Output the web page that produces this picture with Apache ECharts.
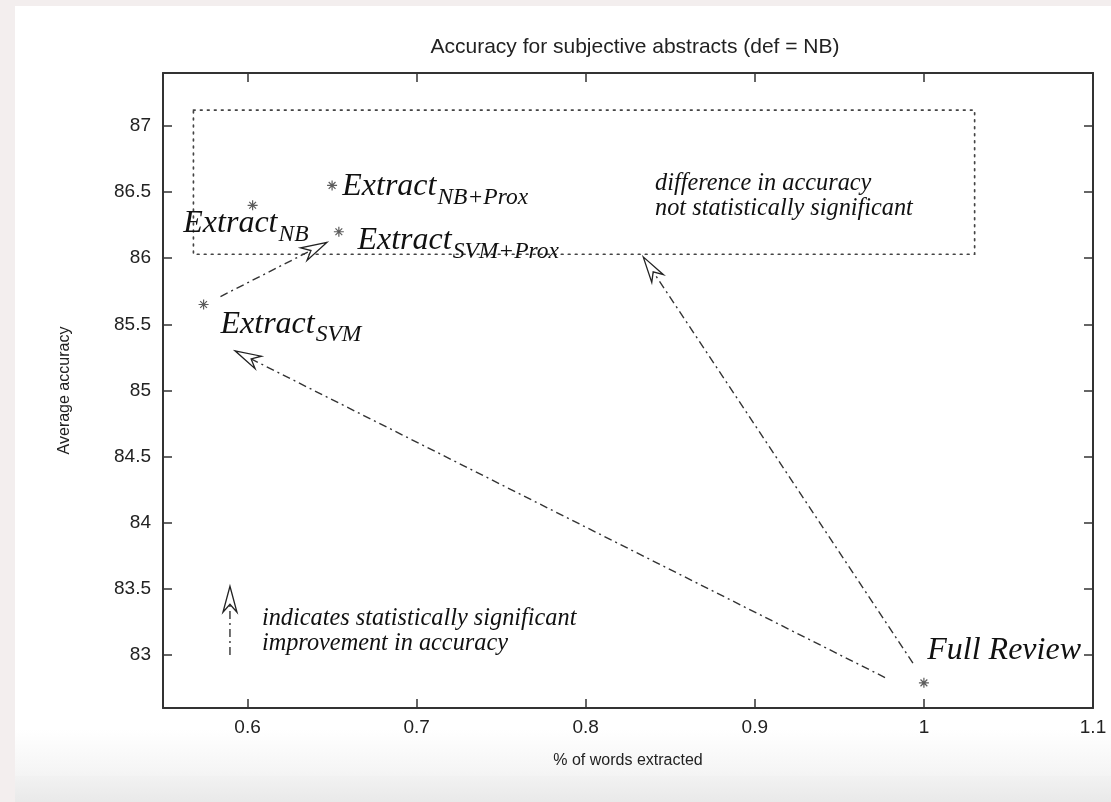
<!DOCTYPE html>
<html><head><meta charset="utf-8">
<script src="https://cdn.jsdelivr.net/npm/echarts@6/dist/echarts.min.js"></script>
<style>
html,body{margin:0;padding:0;background:#f3eeee;overflow:hidden;}
#paper{position:absolute;left:15px;top:6px;width:1096px;height:770px;background:linear-gradient(#ffffff 0%,#ffffff 94%,#f4f4f4 100%);}
#fade{position:absolute;left:15px;top:776px;width:1096px;height:26px;background:linear-gradient(#f2f2f2,#e9e9e9);}
#chart{position:absolute;left:0;top:0;width:1111px;height:802px;}
</style></head><body>
<div id="paper"></div><div id="fade"></div><div id="chart"></div>
<script>
// ---- data ----
const pointNames = ['Extract_NB', 'Extract_NB+Prox', 'Extract_SVM+Prox', 'Extract_SVM', 'Full Review'];
const wordsExtracted = [0.603, 0.650, 0.654, 0.574, 1.0];
const avgAccuracy = [86.40, 86.55, 86.20, 85.65, 82.79];
const labelMain = ['Extract', 'Extract', 'Extract', 'Extract', 'Full Review'];
const labelSub = ['NB', 'NB+Prox', 'SVM+Prox', 'SVM', ''];
const labelX = [0.562, 0.656, 0.665, 0.584, 1.002];
const labelY = [86.18, 86.46, 86.05, 85.42, 82.95];
const arrowFromX = [0.584, 0.977, 0.9935, 0.5896];
const arrowFromY = [85.71, 82.83, 82.94, 83.0];
const arrowToX = [0.647, 0.5926, 0.834, 0.5896];
const arrowToY = [86.12, 85.30, 86.01, 83.52];
const boxX = [0.568, 1.03];
const boxY = [86.03, 87.12];
const noteLines = [['difference in accuracy', 'not statistically significant'],
                   ['indicates statistically significant', 'improvement in accuracy']];
const noteX = [0.841, 0.6085];
const noteY = [86.50, 83.215];
const xTicks = [0.6, 0.7, 0.8, 0.9, 1, 1.1];
const yTicks = [83, 83.5, 84, 84.5, 85, 85.5, 86, 86.5, 87];

// ---- helpers ----
const mctx = document.createElement('canvas').getContext('2d');
function textWidth(t, font) { mctx.font = font; return mctx.measureText(t).width; }
const SERIF = '"Liberation Serif", "Times New Roman", serif';
const MAIN_SIZE = 32, SUB_SIZE = 23.5, NOTE_SIZE = 24.3;
const MAIN_FONT = 'italic ' + MAIN_SIZE + 'px ' + SERIF;
const SUB_FONT = 'italic ' + SUB_SIZE + 'px ' + SERIF;
const NOTE_FONT = 'italic ' + NOTE_SIZE + 'px ' + SERIF;
const INK = '#111';
const fmt = v => String(Math.round(v * 100) / 100);

const chart = echarts.init(document.getElementById('chart'), null, {renderer: 'canvas'});

const axisCommon = {
  type: 'value',
  splitLine: {show: false},
  axisLine: {show: true, onZero: false, lineStyle: {color: '#333', width: 2}},
};

const option = {
  backgroundColor: 'transparent',
  animation: false,
  title: {
    text: 'Accuracy for subjective abstracts (def = NB)',
    left: 630, top: 32, textAlign: 'center',
    textStyle: {fontFamily: '"Liberation Sans", Arial, sans-serif', fontSize: 21, fontWeight: 'normal', color: '#222'}
  },
  grid: {left: 163, right: 18, top: 73, bottom: 94, containLabel: false, outerBoundsMode: 'none'},
  xAxis: [
    Object.assign({}, axisCommon, {
      min: 0.55, max: 1.1, position: 'bottom',
      name: '% of words extracted', nameLocation: 'middle', nameGap: 45,
      nameTextStyle: {fontFamily: '"Liberation Sans", Arial, sans-serif', fontSize: 16, color: '#222'},
      axisTick: {show: true, inside: true, length: 9, customValues: xTicks, lineStyle: {color: '#333', width: 1.5}},
      axisLabel: {show: true, customValues: xTicks, formatter: fmt, margin: 10,
        fontFamily: '"Liberation Sans", Arial, sans-serif', fontSize: 19, color: '#222'}
    }),
    Object.assign({}, axisCommon, {
      min: 0.55, max: 1.1, position: 'top',
      axisTick: {show: true, inside: true, length: 9, customValues: xTicks, lineStyle: {color: '#333', width: 1.5}},
      axisLabel: {show: false}
    })
  ],
  yAxis: [
    Object.assign({}, axisCommon, {
      min: 82.6, max: 87.4, position: 'left',
      name: 'Average accuracy', nameLocation: 'middle', nameGap: 90,
      nameTextStyle: {fontFamily: '"Liberation Sans", Arial, sans-serif', fontSize: 16, color: '#222'},
      axisTick: {show: true, inside: true, length: 9, customValues: yTicks, lineStyle: {color: '#333', width: 1.5}},
      axisLabel: {show: true, customValues: yTicks, formatter: fmt, margin: 12,
        fontFamily: '"Liberation Sans", Arial, sans-serif', fontSize: 19, color: '#222'}
    }),
    Object.assign({}, axisCommon, {
      min: 82.6, max: 87.4, position: 'right',
      axisTick: {show: true, inside: true, length: 9, customValues: yTicks, lineStyle: {color: '#333', width: 1.5}},
      axisLabel: {show: false}
    })
  ],
  series: [
    {
      name: 'region', type: 'custom', xAxisIndex: 0, yAxisIndex: 0, silent: true,
      data: [[boxX[0], boxY[0], boxX[1], boxY[1]]],
      encode: {x: [0, 2], y: [1, 3]},
      renderItem: function (params, api) {
        const a = api.coord([api.value(0), api.value(3)]);
        const b = api.coord([api.value(2), api.value(1)]);
        return {type: 'rect', shape: {x: a[0], y: a[1], width: b[0] - a[0], height: b[1] - a[1]},
          style: {fill: 'none', stroke: '#444', lineWidth: 1.7, lineDash: [1.7, 5.3], lineCap: 'round'}};
      }
    },
    {
      name: 'arrows', type: 'custom', xAxisIndex: 0, yAxisIndex: 0, silent: true,
      data: arrowFromX.map((x, i) => [x, arrowFromY[i], arrowToX[i], arrowToY[i]]),
      encode: {x: [0, 2], y: [1, 3]},
      renderItem: function (params, api) {
        const p0 = api.coord([api.value(0), api.value(1)]);
        const p1 = api.coord([api.value(2), api.value(3)]);
        const dx = p1[0] - p0[0], dy = p1[1] - p0[1];
        const len = Math.hypot(dx, dy) || 1;
        const ux = dx / len, uy = dy / len, nx = -uy, ny = ux;
        const headLen = 26, headW = 7, notch = 18;
        const back = [p1[0] - ux * headLen, p1[1] - uy * headLen];
        const np = [p1[0] - ux * notch, p1[1] - uy * notch];
        const left = [back[0] + nx * headW, back[1] + ny * headW];
        const right = [back[0] - nx * headW, back[1] - ny * headW];
        return {type: 'group', children: [
          {type: 'line', shape: {x1: p0[0], y1: p0[1], x2: np[0], y2: np[1]},
            style: {stroke: '#333', lineWidth: 1.4, lineDash: [8, 4, 2, 4]}},
          {type: 'polygon', shape: {points: [p1, left, np, right]},
            style: {fill: '#fff', stroke: '#222', lineWidth: 1.3}}
        ]};
      }
    },
    {
      name: 'methods', type: 'scatter', xAxisIndex: 0, yAxisIndex: 0,
      data: wordsExtracted.map((x, i) => ({name: pointNames[i], value: [x, avgAccuracy[i]]})),
      symbol: 'path://M5,0L5,10M0,5L10,5M1.6,1.6L8.4,8.4M1.6,8.4L8.4,1.6',
      symbolSize: 10,
      itemStyle: {color: 'none', borderColor: '#333', borderWidth: 1.2},
      z: 5
    },
    {
      name: 'labels', type: 'custom', xAxisIndex: 0, yAxisIndex: 0, silent: true,
      data: labelX.map((x, i) => [x, labelY[i], i]),
      encode: {x: 0, y: 1},
      renderItem: function (params, api) {
        const p = api.coord([api.value(0), api.value(1)]);
        const i = api.value(2);
        const children = [{type: 'text', x: p[0], y: p[1] - 0.3375 * MAIN_SIZE,
          style: {text: labelMain[i], font: MAIN_FONT, fill: INK, align: 'left', verticalAlign: 'middle'}}];
        if (labelSub[i]) {
          const w = textWidth(labelMain[i], MAIN_FONT);
          children.push({type: 'text', x: p[0] + w + 1, y: p[1] + 8 - 0.3375 * SUB_SIZE,
            style: {text: labelSub[i], font: SUB_FONT, fill: INK, align: 'left', verticalAlign: 'middle'}});
        }
        return {type: 'group', children: children};
      }
    },
    {
      name: 'notes', type: 'custom', xAxisIndex: 0, yAxisIndex: 0, silent: true,
      data: noteX.map((x, i) => [x, noteY[i], i]),
      encode: {x: 0, y: 1},
      renderItem: function (params, api) {
        const p = api.coord([api.value(0), api.value(1)]);
        const i = api.value(2);
        return {type: 'group', children: noteLines[i].map((t, k) => ({
          type: 'text', x: p[0], y: p[1] - 0.3375 * NOTE_SIZE + k * 25,
          style: {text: t, font: NOTE_FONT, fill: INK, align: 'left', verticalAlign: 'middle'}
        }))};
      }
    }
  ]
};
chart.setOption(option);
</script>
</body></html>
